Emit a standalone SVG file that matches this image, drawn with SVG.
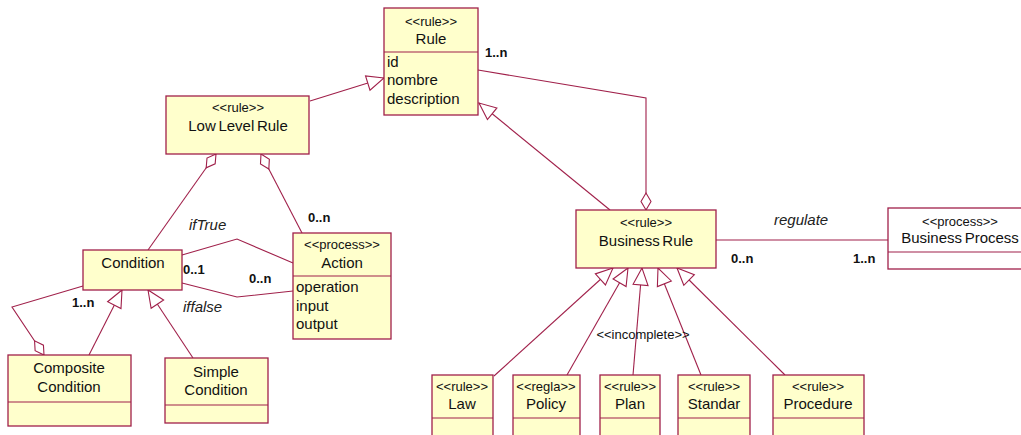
<svg xmlns="http://www.w3.org/2000/svg" width="1021" height="435" viewBox="0 0 1021 435">
<style>
.box{fill:#ffffcc;stroke:#a0204a;stroke-width:1.3}
.wbox{fill:#ffffff;stroke:#a0204a;stroke-width:1.3}
.ln{fill:none;stroke:#a0204a;stroke-width:1.1}
.st{font-family:"Liberation Sans",Arial,sans-serif;font-size:13px;fill:#111;text-anchor:middle}
.nm{font-family:"Liberation Sans",Arial,sans-serif;font-size:15px;fill:#111;text-anchor:middle;word-spacing:-1.5px}
.at{font-family:"Liberation Sans",Arial,sans-serif;font-size:15px;fill:#111}
.ml{font-family:"Liberation Sans",Arial,sans-serif;font-size:13px;font-weight:bold;fill:#111}
.it{font-family:"Liberation Sans",Arial,sans-serif;font-size:15px;font-style:italic;fill:#222}
</style>
<defs>
<marker id="gen" markerUnits="userSpaceOnUse" orient="auto" refX="0" refY="0" markerWidth="20" markerHeight="20" viewBox="-18 -9 20 18" overflow="visible">
<path d="M0,0 L-17,-7.5 L-17,7.5 Z" fill="#ffffff" stroke="#a0204a" stroke-width="1.1"/>
</marker>
<marker id="agg" markerUnits="userSpaceOnUse" orient="auto" refX="0" refY="0" markerWidth="20" markerHeight="20" viewBox="-18 -9 20 18" overflow="visible">
<path d="M0,0 L-8.5,-5 L-17,0 L-8.5,5 Z" fill="#ffffff" stroke="#a0204a" stroke-width="1.1"/>
</marker>
</defs>
<g id="connectors">
<path class="ln" d="M310,101 L384,78" marker-end="url(#gen)"/>
<path class="ln" d="M610,210 L479,103" marker-end="url(#gen)"/>
<path class="ln" d="M478,70 L646,98 L646,210" marker-end="url(#agg)"/>
<path class="ln" d="M148,250 L216,154" marker-end="url(#agg)"/>
<path class="ln" d="M302,233 L261,154" marker-end="url(#agg)"/>
<path class="ln" d="M182,255 L237,239 L293,263"/>
<path class="ln" d="M182,283 L237,297 L293,291"/>
<path class="ln" d="M83,286 L12,307 L44,355" marker-end="url(#agg)"/>
<path class="ln" d="M89,355 L122,290" marker-end="url(#gen)"/>
<path class="ln" d="M193,358 L148,290" marker-end="url(#gen)"/>
<path class="ln" d="M494,376 L613,268" marker-end="url(#gen)"/>
<path class="ln" d="M567,375 L628,268" marker-end="url(#gen)"/>
<path class="ln" d="M633,375 L642,268" marker-end="url(#gen)"/>
<path class="ln" d="M701,375 L658,268" marker-end="url(#gen)"/>
<path class="ln" d="M785,375 L677,268" marker-end="url(#gen)"/>
<path class="ln" d="M716,240 L888,240"/>
<text class="ml" x="485" y="57">1..n</text>
<text class="ml" x="308" y="222">0..n</text>
<text class="it" x="189" y="230">ifTrue</text>
<text class="ml" x="183" y="274">0..1</text>
<text class="ml" x="249" y="283">0..n</text>
<text class="it" x="183" y="312">iffalse</text>
<text class="ml" x="72" y="307">1..n</text>
<text class="it" x="774" y="225">regulate</text>
<text class="ml" x="731" y="263">0..n</text>
<text class="ml" x="853" y="263">1..n</text>
<text class="st" x="643" y="339">&lt;&lt;incomplete&gt;&gt;</text>
</g>
<g id="rule">
<rect class="box" x="384" y="8" width="94" height="107"/>
<line class="ln" x1="384" y1="52" x2="478" y2="52"/>
<text class="st" x="431" y="26">&lt;&lt;rule&gt;&gt;</text>
<text class="nm" x="431" y="44">Rule</text>
<text class="at" x="387" y="67">id</text>
<text class="at" x="387" y="85">nombre</text>
<text class="at" x="387" y="104">description</text>
</g>
<g id="low-level-rule">
<rect class="box" x="166" y="96" width="143" height="58"/>
<text class="st" x="238" y="112">&lt;&lt;rule&gt;&gt;</text>
<text class="nm" x="238" y="131">Low Level Rule</text>
</g>
<g id="condition">
<rect class="box" x="83" y="250" width="99" height="40"/>
<text class="nm" x="133" y="268">Condition</text>
</g>
<g id="action">
<rect class="box" x="293" y="233" width="98" height="106"/>
<line class="ln" x1="293" y1="276" x2="391" y2="276"/>
<text class="st" x="342" y="249">&lt;&lt;process&gt;&gt;</text>
<text class="nm" x="342" y="268">Action</text>
<text class="at" x="296" y="292">operation</text>
<text class="at" x="296" y="311">input</text>
<text class="at" x="296" y="329">output</text>
</g>
<g id="composite-condition">
<rect class="box" x="8" y="355" width="123" height="71"/>
<line class="ln" x1="8" y1="402" x2="131" y2="402"/>
<text class="nm" x="69" y="373">Composite</text>
<text class="nm" x="69" y="392">Condition</text>
</g>
<g id="simple-condition">
<rect class="box" x="165" y="358" width="103" height="65"/>
<line class="ln" x1="165" y1="405" x2="268" y2="405"/>
<text class="nm" x="216" y="377">Simple</text>
<text class="nm" x="216" y="395">Condition</text>
</g>
<g id="business-rule">
<rect class="box" x="576" y="210" width="140" height="58"/>
<text class="st" x="646" y="227">&lt;&lt;rule&gt;&gt;</text>
<text class="nm" x="646" y="246">Business Rule</text>
</g>
<g id="business-process">
<rect class="wbox" x="888" y="208" width="140" height="61"/>
<line class="ln" x1="888" y1="252" x2="1028" y2="252"/>
<text class="st" x="960" y="226">&lt;&lt;process&gt;&gt;</text>
<text class="nm" x="960" y="243">Business Process</text>
</g>
<g id="law">
<rect class="box" x="432" y="375" width="61" height="70"/>
<line class="ln" x1="432" y1="418" x2="493" y2="418"/>
<text class="st" x="462" y="391">&lt;&lt;rule&gt;&gt;</text>
<text class="nm" x="462" y="409">Law</text>
</g>
<g id="policy">
<rect class="box" x="513" y="375" width="67" height="70"/>
<line class="ln" x1="513" y1="418" x2="580" y2="418"/>
<text class="st" x="546" y="391">&lt;&lt;regla&gt;&gt;</text>
<text class="nm" x="546" y="409">Policy</text>
</g>
<g id="plan">
<rect class="box" x="600" y="375" width="60" height="70"/>
<line class="ln" x1="600" y1="418" x2="660" y2="418"/>
<text class="st" x="630" y="391">&lt;&lt;rule&gt;&gt;</text>
<text class="nm" x="630" y="409">Plan</text>
</g>
<g id="standar">
<rect class="box" x="678" y="375" width="72" height="70"/>
<line class="ln" x1="678" y1="418" x2="750" y2="418"/>
<text class="st" x="714" y="391">&lt;&lt;rule&gt;&gt;</text>
<text class="nm" x="714" y="409">Standar</text>
</g>
<g id="procedure">
<rect class="box" x="773" y="375" width="91" height="70"/>
<line class="ln" x1="773" y1="418" x2="864" y2="418"/>
<text class="st" x="818" y="391">&lt;&lt;rule&gt;&gt;</text>
<text class="nm" x="818" y="409">Procedure</text>
</g>
</svg>
